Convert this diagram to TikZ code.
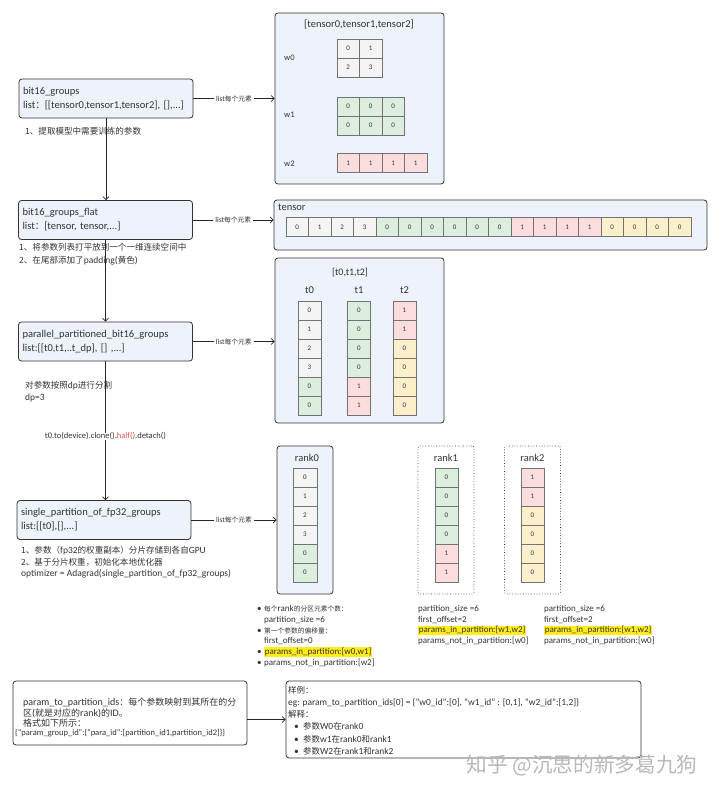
\documentclass[tikz,border=0pt]{standalone}
\usepackage{fontspec}
\setmainfont{Carlito}
\newfontfamily\cjk{Noto Sans CJK SC}[Scale=0.9]
\newfontfamily\cjksmall{Noto Sans CJK SC}[Scale=0.75]
\newcommand\zh[1]{{\cjk #1}}
\newcommand\zhs[1]{{\cjksmall #1}}
\usetikzlibrary{arrows.meta}
\definecolor{panelfill}{HTML}{EEF2FB}
\definecolor{cgray}{HTML}{F4F4F4}
\definecolor{cgreen}{HTML}{DCEFDF}
\definecolor{cred}{HTML}{FBDDDD}
\definecolor{cyellow}{HTML}{FCF0CC}
\definecolor{hlyellow}{HTML}{FFEC1A}
\definecolor{halfred}{HTML}{D9534F}
\definecolor{inkgray}{HTML}{333333}
\setlength{\fboxsep}{0.6pt}
\begin{document}
\begin{tikzpicture}[x=1pt,y=-1pt]
	\tikzstyle{every node}+=[inner sep=0pt, text=inkgray]
	\tikzstyle{panel}=[draw=black!80, fill=panelfill, rounded corners=3pt, line width=0.8pt]
	\tikzstyle{groupbox}=[panel, text width=166pt, minimum height=39pt, inner xsep=4pt, align=left, font=\fontsize{10.5}{14}\selectfont]
	\tikzstyle{rankbox}=[draw=black!80, dotted, line width=0.7pt, rounded corners=2pt, minimum width=56pt, minimum height=148pt]
	\tikzstyle{cellbox}=[draw=black!55, line width=0.5pt, minimum width=22.5pt, minimum height=19pt, font=\fontsize{7}{8}\selectfont]
	\tikzstyle{notetext}=[anchor=west, align=left, font=\fontsize{9.5}{12.5}\selectfont]
	\tikzstyle{ranktext}=[anchor=west, align=left, font=\fontsize{9}{10.7}\selectfont]
	\tikzstyle{eachlabel}=[fill=white, inner xsep=2pt, font=\fontsize{7.5}{8}\selectfont]
	\tikzstyle{flowarrow}=[-{Straight Barb[length=3pt,width=6pt]}, line width=0.7pt, draw=black!85]
	\useasboundingbox (0,0) rectangle (720,794);
	% left column
	\node [groupbox] (groups) at (106,98.5) {bit16\_groups\\list\zh{：}[[tensor0,tensor1,tensor2], [],...]};
	\node [notetext] (note1) at (25,131) {\zh{1、提取模型中需要训练的参数}};
	\node [groupbox] (flat) at (105.5,220) {bit16\_groups\_flat\\list\zh{：}[tensor, tensor,...]};
	\node [notetext, font=\fontsize{9.5}{13}\selectfont] (note2) at (19,254.5) {\zh{1、将参数列表打平放到一个一维连续空间中}\\\zh{2、在尾部添加了}padding(\zh{黄色})};
	\node [groupbox] (parts) at (105.5,341.5) {parallel\_partitioned\_bit16\_groups\\list:[[t0,t1,..t\_dp], [] ,...]};
	\node [notetext, font=\fontsize{9.5}{12}\selectfont] (note3) at (25,392) {\zh{对参数按照}dp\zh{进行分割}\\dp=3};
	\node [groupbox] (single) at (104,520) {single\_partition\_of\_fp32\_groups\\list:[[t0],[],...]};
	\node [notetext, font=\fontsize{9.5}{11.5}\selectfont] (note4) at (21,562.5) {\zh{1、参数（}fp32\zh{的权重副本）分片存储到各自}GPU\\\zh{2、基于分片权重，初始化本地优化器}\\optimizer = Adagrad(single\_partition\_of\_fp32\_groups)};
	\draw [flowarrow] (groups.south) -- (groups.south |- flat.north);
	\draw [flowarrow] (flat.south) -- (flat.south |- parts.north);
	\draw [flowarrow] (parts.south) -- (parts.south |- single.north) node [pos=0.54, eachlabel, font=\fontsize{8.5}{9}\selectfont] (tohalf) {t0.to(device).clone().\textcolor{halfred}{half()}.detach()};
	% tensors of bit16_groups
	\node [panel, minimum width=169pt, minimum height=171pt] (tensors) at (359.5,98.5) {};
	\node [font=\fontsize{10.5}{11}\selectfont] (tensorstitle) at (359,24) {[tensor0,tensor1,tensor2]};
	\node [anchor=west, font=\fontsize{8.5}{9}\selectfont] (w0) at (284,58) {w0};
	\node [anchor=west, font=\fontsize{8.5}{9}\selectfont] (w1) at (284,115) {w1};
	\node [anchor=west, font=\fontsize{8.5}{9}\selectfont] (w2) at (284,164) {w2};
	\foreach \v [count=\i from 0] in {0,1}
		\node [cellbox, fill=cgray] (w0a\i) at (348.25+22.5*\i,48.5) {\v};
	\foreach \v [count=\i from 0] in {2,3}
		\node [cellbox, fill=cgray] (w0b\i) at (348.25+22.5*\i,67.5) {\v};
	\foreach \i in {0,1,2} {
		\node [cellbox, fill=cgreen] (w1a\i) at (348.25+22.5*\i,106.5) {0};
		\node [cellbox, fill=cgreen] (w1b\i) at (348.25+22.5*\i,125.5) {0};
	}
	\foreach \i in {0,1,2,3}
		\node [cellbox, fill=cred] (w2a\i) at (348.25+22.5*\i,163) {1};
	\draw [flowarrow] (groups.east) -- (groups.east -| tensors.west) node [midway, eachlabel] (each1) {list\zh{每个元素}};
	% flat tensor
	\node [panel, minimum width=433pt, minimum height=50pt] (flatbox) at (490.5,225) {};
	\node [anchor=west, font=\fontsize{10.5}{11}\selectfont] (flatlbl) at (278,207) {tensor};
	\foreach \v/\c [count=\i from 0] in {0/cgray,1/cgray,2/cgray,3/cgray,0/cgreen,0/cgreen,0/cgreen,0/cgreen,0/cgreen,0/cgreen,1/cred,1/cred,1/cred,1/cred,0/cyellow,0/cyellow,0/cyellow,0/cyellow}
		\node [cellbox, fill=\c] (fc\i) at (297.25+22.5*\i,227) {\v};
	\draw [flowarrow] (flat.east) -- (flat.east -| flatbox.west) node [midway, eachlabel] (each2) {list\zh{每个元素}};
	% partitions t0 t1 t2
	\node [panel, minimum width=169pt, minimum height=165pt] (tbox) at (359.5,340.5) {};
	\node [font=\fontsize{10}{11}\selectfont] (ttitle) at (350,273) {[t0,t1,t2]};
	\node [font=\fontsize{10.5}{11}\selectfont] (t0lbl) at (309.5,290) {t0};
	\node [font=\fontsize{10.5}{11}\selectfont] (t1lbl) at (359,290) {t1};
	\node [font=\fontsize{10.5}{11}\selectfont] (t2lbl) at (404.5,290) {t2};
	\foreach \v/\c [count=\i from 0] in {0/cgray,1/cgray,2/cgray,3/cgray,0/cgreen,0/cgreen}
		\node [cellbox, minimum width=23pt, fill=\c] (ta\i) at (309.5,310.5+19*\i) {\v};
	\foreach \v/\c [count=\i from 0] in {0/cgreen,0/cgreen,0/cgreen,0/cgreen,1/cred,1/cred}
		\node [cellbox, minimum width=23pt, fill=\c] (tb\i) at (359,310.5+19*\i) {\v};
	\foreach \v/\c [count=\i from 0] in {1/cred,1/cred,0/cyellow,0/cyellow,0/cyellow,0/cyellow}
		\node [cellbox, minimum width=23pt, fill=\c] (tc\i) at (404.5,310.5+19*\i) {\v};
	\draw [flowarrow] (parts.east) -- (parts.east -| tbox.west) node [midway, eachlabel] (each3) {list\zh{每个元素}};
	% ranks
	\node [panel, minimum width=56pt, minimum height=148pt] (rank0box) at (305,520) {};
	\node [rankbox] (rank1box) at (446,520) {};
	\node [rankbox] (rank2box) at (532.5,520) {};
	\node [font=\fontsize{10.5}{11}\selectfont] (rank0lbl) at (307,458) {rank0};
	\node [font=\fontsize{10.5}{11}\selectfont] (rank1lbl) at (446,458) {rank1};
	\node [font=\fontsize{10.5}{11}\selectfont] (rank2lbl) at (532.5,458) {rank2};
	\foreach \v/\c [count=\i from 0] in {0/cgray,1/cgray,2/cgray,3/cgray,0/cgreen,0/cgreen}
		\node [cellbox, minimum width=24pt, fill=\c] (ra\i) at (305,477.5+19*\i) {\v};
	\foreach \v/\c [count=\i from 0] in {0/cgreen,0/cgreen,0/cgreen,0/cgreen,1/cred,1/cred}
		\node [cellbox, minimum width=23pt, fill=\c] (rb\i) at (446.5,477.5+19*\i) {\v};
	\foreach \v/\c [count=\i from 0] in {1/cred,1/cred,0/cyellow,0/cyellow,0/cyellow,0/cyellow}
		\node [cellbox, minimum width=23pt, fill=\c] (rc\i) at (532.5,477.5+19*\i) {\v};
	\draw [flowarrow] (single.east) -- (single.east -| rank0box.west) node [midway, eachlabel] (each4) {list\zh{每个元素}};
	\node [ranktext] (rank0info) at (257,636) {\makebox[7pt][l]{\textbullet}\zhs{每个}rank\zhs{的分区元素个数：}\\\hspace*{7pt}partition\_size =6\\\makebox[7pt][l]{\textbullet}\zhs{第一个参数的偏移量：}\\\hspace*{7pt}first\_offset=0\\\makebox[7pt][l]{\textbullet}\colorbox{hlyellow}{params\_in\_partition:[w0,w1]}\\\makebox[7pt][l]{\textbullet}params\_not\_in\_partition:[w2]};
	\node [ranktext] (rank1info) at (418,625) {partition\_size =6\\first\_offset=2\\\colorbox{hlyellow}{params\_in\_partition:[w1,w2]}\\params\_not\_in\_partition:[w0]};
	\node [ranktext] (rank2info) at (544,625) {partition\_size =6\\first\_offset=2\\\colorbox{hlyellow}{params\_in\_partition:[w1,w2]}\\params\_not\_in\_partition:[w0]};
	% param_to_partition_ids
	\node [draw=black!80, fill=white, rounded corners=3pt, line width=0.8pt, minimum width=234pt, minimum height=64pt] (ids) at (130,713) {};
	\node [anchor=west, align=left, font=\fontsize{10}{10.8}\selectfont] (idstext) at (15,717.5) {\hspace*{8pt}param\_to\_partition\_ids\zh{：每个参数映射到其所在的分}\\\hspace*{8pt}\zh{区}(\zh{就是对应的}rank)\zh{的}ID\zh{。}\\\hspace*{8pt}\zh{格式如下所示：}\\[-2pt]{\fontsize{8.5}{8}\selectfont \{``param\_group\_id'':\{``para\_id'':[partition\_id1,partition\_id2]\}\}}};
	\node [draw=black!80, fill=white, rounded corners=3pt, line width=0.8pt, minimum width=355pt, minimum height=77pt] (egbox) at (463.5,719.5) {};
	\node [anchor=west, align=left, font=\fontsize{9.4}{12.2}\selectfont] (egtext) at (288,720.5) {\zh{样例：}\\eg: param\_to\_partition\_ids[0] = \{``w0\_id'':[0], ``w1\_id'' : [0,1], ``w2\_id'':[1,2]\}\\\zh{解释：}\\\hspace*{6pt}\makebox[9pt][l]{\textbullet}\zh{参数}W0\zh{在}rank0\\\hspace*{6pt}\makebox[9pt][l]{\textbullet}\zh{参数}w1\zh{在}rank0\zh{和}rank1\\\hspace*{6pt}\makebox[9pt][l]{\textbullet}\zh{参数}W2\zh{在}rank1\zh{和}rank2};
	\draw [flowarrow] (ids.east |- egbox.west) -- (egbox.west);
	\node [text=black!28, font=\fontsize{23}{24}\selectfont] (mark) at (582,766) {\zh{知乎 @沉思的新多葛九狗}};
\end{tikzpicture}
\end{document}
